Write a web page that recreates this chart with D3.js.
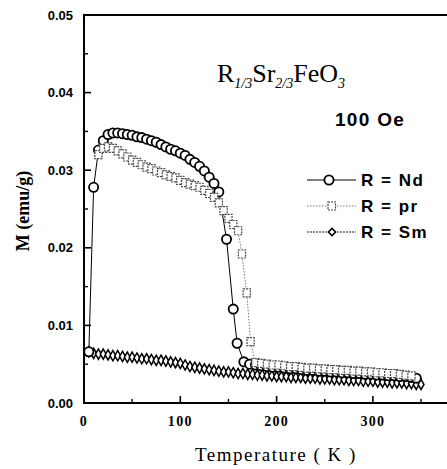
<!DOCTYPE html>
<html>
<head>
<meta charset="utf-8">
<script src="https://cdn.jsdelivr.net/npm/d3@7"></script>
<style>
  body { margin: 0; background: #fff; }
  svg { display: block; }
</style>
</head>
<body>
<div id="chart"></div>
<script>
// Data: temperature (K) and magnetisation (emu/g)
const ndT = [5,10,15,20,25,30,35,40,45,50,55,60,65,70,75,80,85,90,95,100,105,110,115,120,125,130,135,140,148,155,159,166,
  172,178,184,190,196,202,208,214,220,226,232,238,244,250,256,262,268,274,280,286,292,298,304,310,316,322,328,334,340,345];
const ndM = [0.0066,0.0278,0.0326,0.0338,0.0346,0.0348,0.0348,0.0347,0.0346,0.0345,0.0343,0.0342,0.0340,0.0338,0.0336,0.0333,0.0330,0.0327,0.0325,0.0322,0.0319,0.0314,0.0310,0.0305,0.0299,0.0291,0.0283,0.0272,0.0211,0.0121,0.0077,0.0053,
  0.0050,0.0049,0.0048,0.0047,0.0046,0.0046,0.0045,0.0044,0.0044,0.0043,0.0042,0.0042,0.0041,0.0041,0.0040,0.0040,0.0039,0.0039,0.0038,0.0038,0.0037,0.0037,0.0036,0.0036,0.0035,0.0035,0.0034,0.0034,0.0033,0.0032];

const prT = [15,20,25,30,35,40,45,50,55,60,65,70,75,80,85,90,95,100,105,110,115,120,125,130,135,140,145,150,155,160,
  164,169,173,178,
  184,190,196,202,208,214,220,226,232,238,244,250,256,262,268,274,280,286,292,298,304,310,316,322,328,334,340];
const prM = [0.0320,0.0328,0.0330,0.0328,0.0325,0.0321,0.0317,0.0313,0.0310,0.0307,0.0304,0.0302,0.0299,0.0297,0.0294,0.0292,0.0290,0.0287,0.0284,0.0282,0.0280,0.0278,0.0274,0.0270,0.0265,0.0258,0.0248,0.0238,0.0230,0.0222,
  0.0192,0.0142,0.0079,0.0052,
  0.0051,0.0050,0.0049,0.0049,0.0048,0.0047,0.0047,0.0046,0.0045,0.0045,0.0044,0.0044,0.0043,0.0043,0.0042,0.0042,0.0041,0.0041,0.0040,0.0040,0.0039,0.0039,0.0038,0.0038,0.0037,0.0036,0.0035];

const smT = [5,10,15,20,25,30,35,40,45,50,55,60,65,70,75,80,85,90,95,100,105,110,115,120,125,130,135,140,145,150,
  155,160,165,170,175,180,185,190,195,200,205,210,215,220,225,230,235,240,245,250,255,260,265,270,275,280,285,290,295,300,
  305,310,315,320,325,330,335,340,345,350];
const smM = [0.0066,0.0064,0.0063,0.0063,0.0062,0.0061,0.0061,0.0060,0.0059,0.0059,0.0058,0.0057,0.0057,0.0056,0.0055,0.0055,0.0054,0.0053,0.0052,0.0051,
  0.0049,0.0047,0.0046,0.0045,0.0044,0.0043,0.0042,0.0041,0.0040,0.0040,0.0039,0.0038,0.0038,0.0037,0.0037,0.0036,0.0036,0.0035,0.0035,0.0034,
  0.0034,0.0034,0.0033,0.0033,0.0033,0.0032,0.0032,0.0032,0.0031,0.0031,0.0031,0.0030,0.0030,0.0030,0.0029,0.0029,0.0029,0.0028,0.0028,0.0028,
  0.0027,0.0027,0.0027,0.0026,0.0026,0.0026,0.0025,0.0025,0.0024,0.0024];

const xTicks = [0, 100, 200, 300];
const yTicks = [0, 0.01, 0.02, 0.03, 0.04, 0.05];
const legendLabels = ["R = Nd", "R = pr", "R = Sm"];

const width = 447, height = 469;
const margin = { top: 15, left: 84, bottom: 66 };

const svg = d3.select("#chart").append("svg")
  .attr("width", width)
  .attr("height", height);

const x = d3.scaleLinear().domain([0, 380]).range([margin.left, margin.left + 380 * 0.963]);
const y = d3.scaleLinear().domain([0, 0.05]).range([height - margin.bottom, margin.top]);

const x0 = x(0), yB = y(0), yT = y(0.05);

// Frame (left, top, bottom; right side runs off the page)
svg.append("path")
  .attr("d", `M${width + 5},${yT}H${x0}V${yB}H${width + 5}`)
  .attr("fill", "none")
  .attr("stroke", "#000")
  .attr("stroke-width", 2);

// Ticks point inward
const xMinor = [50, 150, 250, 350];
svg.selectAll(".xt").data(xTicks.filter(d => d > 0)).enter().append("line")
  .attr("x1", d => x(d)).attr("x2", d => x(d))
  .attr("y1", yB).attr("y2", yB - 7)
  .attr("stroke", "#000").attr("stroke-width", 1.6);
svg.selectAll(".xm").data(xMinor).enter().append("line")
  .attr("x1", d => x(d)).attr("x2", d => x(d))
  .attr("y1", yB).attr("y2", yB - 4)
  .attr("stroke", "#000").attr("stroke-width", 1.4);

const yMinor = [0.005, 0.015, 0.025, 0.035, 0.045];
svg.selectAll(".yt").data(yTicks.filter(d => d > 0 && d < 0.05)).enter().append("line")
  .attr("x1", x0).attr("x2", x0 + 7)
  .attr("y1", d => y(d)).attr("y2", d => y(d))
  .attr("stroke", "#000").attr("stroke-width", 1.6);
svg.selectAll(".ym").data(yMinor).enter().append("line")
  .attr("x1", x0).attr("x2", x0 + 4)
  .attr("y1", d => y(d)).attr("y2", d => y(d))
  .attr("stroke", "#000").attr("stroke-width", 1.4);

// Tick labels
svg.selectAll(".yl").data(yTicks).enter().append("text")
  .attr("x", x0 - 11)
  .attr("y", d => y(d) + 4.5)
  .attr("text-anchor", "end")
  .style("font-family", "Liberation Sans, Arial, sans-serif")
  .style("font-weight", "bold")
  .style("font-size", "13px")
  .text(d => d3.format(".2f")(d));

svg.selectAll(".xl").data(xTicks).enter().append("text")
  .attr("x", d => x(d))
  .attr("y", yB + 23)
  .attr("text-anchor", "middle")
  .style("font-family", "Liberation Serif, Times New Roman, serif")
  .style("font-weight", "bold")
  .style("font-size", "14px")
  .style("letter-spacing", "1.3px")
  .text(d => d);

// Axis titles
svg.append("text")
  .attr("x", 276)
  .attr("y", 461)
  .attr("text-anchor", "middle")
  .style("font-family", "Liberation Serif, Times New Roman, serif")
  .style("font-size", "19px")
  .style("letter-spacing", "1.5px")
  .text("Temperature ( K )");

svg.append("text")
  .attr("transform", "translate(29,211) rotate(-90)")
  .attr("text-anchor", "middle")
  .style("font-family", "Liberation Serif, Times New Roman, serif")
  .style("font-weight", "bold")
  .style("font-size", "18px")
  .text("M (emu/g)");

// Series
const line = d3.line().x(d => x(d[0])).y(d => y(d[1]));
const nd = ndT.map((t, i) => [t, ndM[i]]);
const pr = prT.map((t, i) => [t, prM[i]]);
const sm = smT.map((t, i) => [t, smM[i]]);

const diamond = d3.symbol().type(d3.symbolDiamond).size(30);

// Sm
svg.append("path").datum(sm).attr("d", line)
  .attr("fill", "none").attr("stroke", "#222").attr("stroke-width", 1)
  .attr("stroke-dasharray", "2,1");
svg.selectAll(".sm").data(sm).enter().append("path")
  .attr("d", diamond)
  .attr("transform", d => `translate(${x(d[0])},${y(d[1])})`)
  .attr("fill", "#fff").attr("stroke", "#000").attr("stroke-width", 1.5);

// Nd
svg.append("path").datum(nd).attr("d", line)
  .attr("fill", "none").attr("stroke", "#000").attr("stroke-width", 1);
svg.selectAll(".nd").data(nd).enter().append("circle")
  .attr("cx", d => x(d[0])).attr("cy", d => y(d[1]))
  .attr("r", 4.6)
  .attr("fill", "#fff").attr("stroke", "#000").attr("stroke-width", 1.8);

// pr
svg.append("path").datum(pr).attr("d", line)
  .attr("fill", "none").attr("stroke", "#777").attr("stroke-width", 1)
  .attr("stroke-dasharray", "1.5,1.5");
svg.selectAll(".pr").data(pr).enter().append("rect")
  .attr("x", d => x(d[0]) - 3.6).attr("y", d => y(d[1]) - 4)
  .attr("width", 7.2).attr("height", 8)
  .attr("fill", "#fff").attr("stroke", "#444").attr("stroke-width", 1.2)
  .attr("stroke-dasharray", "2,1");

// Annotations
const formula = svg.append("text")
  .attr("x", 217).attr("y", 82)
  .style("font-family", "Liberation Serif, Times New Roman, serif")
  .style("font-size", "26px");
formula.append("tspan").text("R");
formula.append("tspan").attr("dy", 6).style("font-size", "14px").style("font-style", "italic").text("1/3");
formula.append("tspan").attr("dy", -6).text("Sr");
formula.append("tspan").attr("dy", 6).style("font-size", "14px").style("font-style", "italic").text("2/3");
formula.append("tspan").attr("dy", -6).text("FeO");
formula.append("tspan").attr("dy", 6).style("font-size", "14px").style("font-style", "italic").text("3");

svg.append("text")
  .attr("x", 335).attr("y", 126)
  .style("font-family", "Liberation Sans, Arial, sans-serif")
  .style("font-weight", "bold")
  .style("font-size", "19px")
  .style("letter-spacing", "1.3px")
  .text("100 Oe");

// Legend
const legendY = [180, 206, 232];
const lg = svg.append("g");
// Nd
lg.append("line").attr("x1", 307).attr("x2", 356).attr("y1", legendY[0]).attr("y2", legendY[0])
  .attr("stroke", "#000").attr("stroke-width", 1.2);
lg.append("circle").attr("cx", 329).attr("cy", legendY[0]).attr("r", 4.6)
  .attr("fill", "#fff").attr("stroke", "#000").attr("stroke-width", 1.8);
// pr
lg.append("line").attr("x1", 307).attr("x2", 356).attr("y1", legendY[1]).attr("y2", legendY[1])
  .attr("stroke", "#777").attr("stroke-width", 1).attr("stroke-dasharray", "1.5,1.5");
lg.append("rect").attr("x", 328).attr("y", legendY[1] - 4).attr("width", 7.5).attr("height", 8)
  .attr("fill", "#fff").attr("stroke", "#444").attr("stroke-width", 1.2).attr("stroke-dasharray", "2,1");
// Sm
lg.append("line").attr("x1", 307).attr("x2", 356).attr("y1", legendY[2]).attr("y2", legendY[2])
  .attr("stroke", "#222").attr("stroke-width", 1).attr("stroke-dasharray", "2,1");
lg.append("path")
  .attr("d", d3.symbol().type(d3.symbolSquare).size(26))
  .attr("transform", `translate(332,${legendY[2]}) rotate(45)`)
  .attr("fill", "#fff").attr("stroke", "#000").attr("stroke-width", 1.5);

lg.selectAll(".lt").data(legendLabels).enter().append("text")
  .attr("x", 361)
  .attr("y", (d, i) => legendY[i] + 6)
  .style("font-family", "Liberation Sans, Arial, sans-serif")
  .style("font-weight", "bold")
  .style("font-size", "17px")
  .style("letter-spacing", "1.5px")
  .text(d => d);
</script>
</body>
</html>
